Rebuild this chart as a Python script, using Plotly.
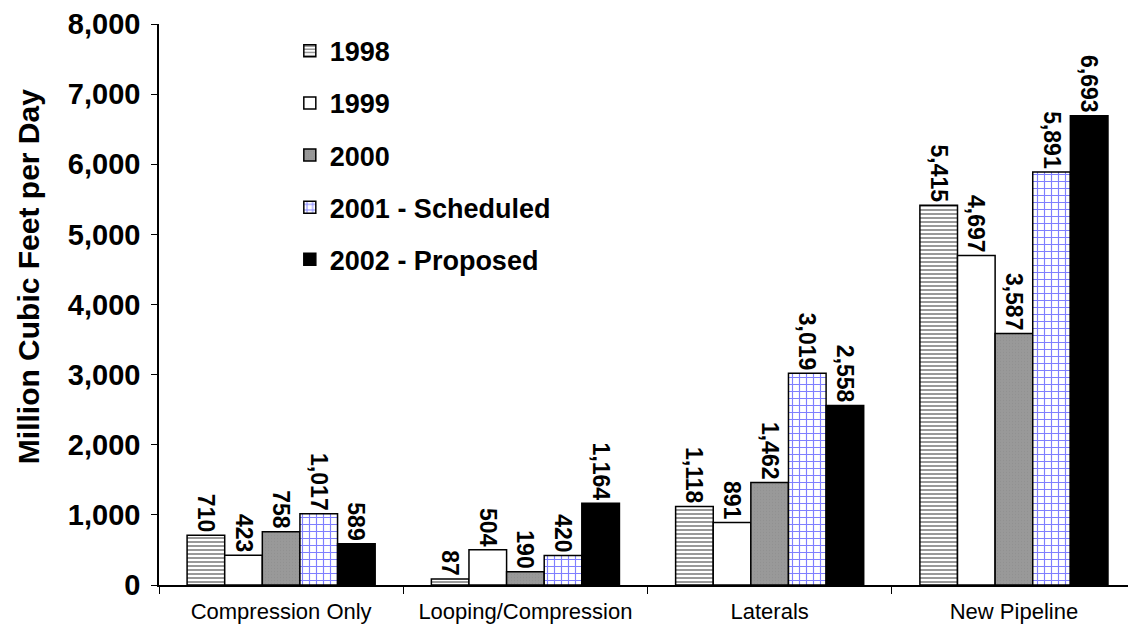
import plotly.graph_objects as go

categories = ["Compression Only", "Looping/Compression", "Laterals", "New Pipeline"]
series_names = ["1998", "1999", "2000", "2001 - Scheduled", "2002 - Proposed"]
v1998 = [710, 87, 1118, 5415]
v1999 = [423, 504, 891, 4697]
v2000 = [758, 190, 1462, 3587]
v2001 = [1017, 420, 3019, 5891]
v2002 = [589, 1164, 2558, 6693]
y_ticks = [0, 1000, 2000, 3000, 4000, 5000, 6000, 7000, 8000]

FONT = "Liberation Sans, Arial, sans-serif"

styles = [
    dict(color="white", pattern=dict(shape="-", fgcolor="black", bgcolor="white", size=4, solidity=0.4)),
    dict(color="white"),
    dict(color="#999999", pattern=dict(shape=".", fgcolor="#8a8a8a", bgcolor="#999999", size=3, solidity=0.15)),
    dict(color="white", pattern=dict(shape="+", fgcolor="#0000ff", bgcolor="white", size=7, solidity=0.3)),
    dict(color="black"),
]

fig = go.Figure()
for name, vals, st in zip(series_names, [v1998, v1999, v2000, v2001, v2002], styles):
    fig.add_trace(go.Bar(
        x=categories, y=vals, name=name, legendgroup=name,
        marker=dict(line=dict(color="black", width=1.5), **st),
        text=[f"{v:,}" for v in vals],
        textposition="outside", textangle=90, constraintext="none",
        cliponaxis=False,
        textfont=dict(family=FONT, size=23, color="black", weight="bold"),
    ))

fig.update_layout(
    width=1128, height=631,
    margin=dict(l=159, r=0, t=24, b=46),
    paper_bgcolor="white", plot_bgcolor="white",
    barmode="group", bargap=0.23, bargroupgap=0,
    font=dict(family=FONT, color="black"),
    legend=dict(
        x=0.135, y=0.995, xanchor="left", yanchor="top",
        bgcolor="rgba(0,0,0,0)",
        font=dict(family=FONT, size=27, color="black", weight="bold"),
        tracegroupgap=14, traceorder="grouped",
    ),
    xaxis=dict(
        range=[-0.5, 3.467], showline=True, linecolor="black", linewidth=1.5,
        ticks="outside", tickson="boundaries", ticklen=7, tickcolor="black",
        ticklabelstandoff=6,
        tickfont=dict(family=FONT, size=22, color="black"),
        showgrid=False, zeroline=False,
    ),
    yaxis=dict(
        range=[0, 8000], tickvals=y_ticks, tickformat=",",
        showline=True, linecolor="black", linewidth=1.5,
        ticks="outside", ticklen=6, tickcolor="black",
        ticklabelstandoff=5,
        tickfont=dict(family=FONT, size=29, color="black", weight="bold"),
        showgrid=False, zeroline=False,
    ),
    annotations=[dict(
        text="Million Cubic Feet per Day", textangle=-90,
        xref="paper", yref="paper", x=-0.135, y=0.549,
        xanchor="center", yanchor="middle", showarrow=False,
        font=dict(family=FONT, size=30, color="black", weight="bold"),
    )],
)

fig.write_html("out.html")
